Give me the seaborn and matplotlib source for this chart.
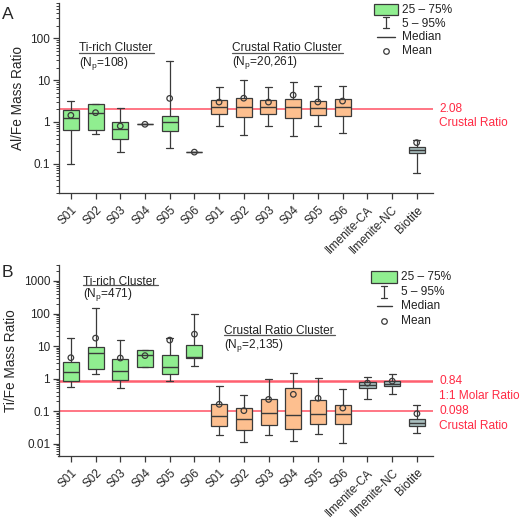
import numpy as np
import matplotlib
matplotlib.use("Agg")
import matplotlib.pyplot as plt
import matplotlib.transforms as mtransforms
import seaborn as sns
from matplotlib.ticker import LogLocator, FuncFormatter, NullFormatter
from matplotlib.patches import Rectangle

# ---------------- data ----------------
categories = ['S01', 'S02', 'S03', 'S04', 'S05', 'S06',
              'S01', 'S02', 'S03', 'S04', 'S05', 'S06',
              'Ilmenite-CA', 'Ilmenite-NC', 'Biotite']
groups = ['ti'] * 6 + ['crust'] * 6 + ['min'] * 3
nan = np.nan

# Panel A: Al/Fe mass ratio (5%, 25%, median, 75%, 95%, mean)
a_p5 = [0.10, 0.51, 0.19, 0.88, 0.245, 0.19, 0.79, 0.48, 0.79, 0.46, 0.79, 0.53, nan, nan, 0.06]
a_q1 = [0.645, 0.66, 0.39, 0.88, 0.60, 0.19, 1.58, 1.29, 1.58, 1.25, 1.50, 1.37, nan, nan, 0.18]
a_med = [1.27, 1.67, 0.67, 0.88, 1.0, 0.19, 2.27, 2.32, 2.27, 2.27, 2.15, 2.27, nan, nan, 0.216]
a_q3 = [1.93, 2.64, 0.98, 0.88, 1.39, 0.19, 3.28, 3.73, 3.28, 3.6, 3.16, 3.53, nan, nan, 0.254]
a_p95 = [3.16, 2.74, 2.12, 0.88, 29.0, 0.19, 6.97, 10.2, 6.97, 9.1, 7.35, 7.2, nan, nan, 0.366]
a_mean = [1.44, 1.67, 0.80, 0.88, 3.66, 0.19, 2.99, 3.7, 2.99, 4.4, 3.0, 3.16, nan, nan, 0.32]

# Panel B: Ti/Fe mass ratio
b_p5 = [0.54, 1.38, 0.50, 2.27, 0.87, 2.38, 0.0186, 0.0111, 0.018, 0.012, 0.020, 0.0105, 0.237, 0.35, 0.021]
b_q1 = [0.87, 1.93, 0.89, 2.27, 1.42, 4.3, 0.036, 0.026, 0.039, 0.029, 0.040, 0.041, 0.53, 0.58, 0.034]
b_med = [1.56, 5.97, 1.76, 5.4, 2.27, 4.5, 0.070, 0.0565, 0.086, 0.0785, 0.082, 0.082, 0.65, 0.70, 0.045]
b_q3 = [3.3, 9.6, 4.1, 7.5, 5.2, 11.0, 0.171, 0.125, 0.24, 0.515, 0.227, 0.155, 0.77, 0.83, 0.058]
b_p95 = [17.2, 150.0, 15.3, 7.5, 17.6, 94.0, 0.59, 0.31, 0.97, 1.53, 1.04, 0.49, 1.1, 1.35, 0.155]
b_mean = [4.4, 17.6, 4.3, 5.1, 15.3, 23.3, 0.163, 0.104, 0.23, 0.33, 0.25, 0.125, 0.73, 0.84, 0.084]

a_refs = [(2.08, '2.08', 'Crustal Ratio', 1.2)]
b_refs = [(0.84, '0.84', '1:1 Molar Ratio', 1.8), (0.098, '0.098', 'Crustal Ratio', 1.2)]

a_clusters = [('Ti-rich Cluster', '108'), ('Crustal Ratio Cluster', '20,261')]
b_clusters = [('Ti-rich Cluster', '471'), ('Crustal Ratio Cluster', '2,135')]

legend_labels = ['25 \u2013 75%', '5 \u2013 95%', 'Median', 'Mean']

# ---------------- style ----------------
sns.set_theme(style='ticks')
plt.rcParams['font.family'] = ['Liberation Sans', 'DejaVu Sans']
plt.rcParams['mathtext.fontset'] = 'custom'
plt.rcParams['mathtext.rm'] = 'Liberation Sans'
plt.rcParams['mathtext.it'] = 'Liberation Sans:italic'

group_colors = {'ti': '#90ee90', 'crust': '#fdbf8f', 'min': '#a9bfbf'}
dark = '#3a3a3a'
red_line = '#ff5f6f'
red_text = '#ff2a44'

fig = plt.figure(figsize=(5.2, 5.2), dpi=100)
W = H = 520.0
axA = fig.add_axes([58.5 / W, 1 - 193 / H, 374.2 / W, 190 / H])
axB = fig.add_axes([58.5 / W, 1 - 455.7 / H, 374.5 / W, 190.7 / H])


def draw_panel(ax, p5, q1, med, q3, p95, mean, ylim, ylabel, refs, clusters,
               cl_pos, leg_pos):
    pos = np.arange(len(categories))
    stats, positions, colors = [], [], []
    for i in range(len(categories)):
        if np.isnan(med[i]):
            continue
        stats.append(dict(med=med[i], q1=q1[i], q3=q3[i], whislo=p5[i],
                          whishi=p95[i], mean=mean[i], fliers=[]))
        positions.append(pos[i])
        colors.append(group_colors[groups[i]])
    bp = ax.bxp(stats, positions=positions, widths=0.65, capwidths=0.28,
                patch_artist=True, showfliers=False, showmeans=False,
                boxprops=dict(edgecolor=dark, linewidth=0.9),
                whiskerprops=dict(color=dark, linewidth=0.9),
                capprops=dict(color=dark, linewidth=0.9),
                medianprops=dict(color=dark, linewidth=1.0),
                zorder=3)
    for patch, c in zip(bp['boxes'], colors):
        patch.set_facecolor(c)

    mx = [pos[i] for i in range(len(categories)) if not np.isnan(mean[i])]
    my = [mean[i] for i in range(len(categories)) if not np.isnan(mean[i])]
    sns.scatterplot(x=mx, y=my, ax=ax, marker='o', s=16, facecolor='none',
                    edgecolor=dark, linewidth=0.9, zorder=5, legend=False)

    for val, lab1, lab2, lw in refs:
        ax.axhline(val, color=red_line, lw=lw, zorder=2)
        ax.annotate(lab1, xy=(1.017, val), xycoords=('axes fraction', 'data'),
                    ha='left', va='center', color=red_text, fontsize=8.6,
                    annotation_clip=False)
        ax.annotate(lab2, xy=(1.017, val), xycoords=('axes fraction', 'data'),
                    xytext=(0, -10.5), textcoords='offset points',
                    ha='left', va='center', color=red_text, fontsize=8.6,
                    annotation_clip=False)

    ax.set_yscale('log')
    ax.set_ylim(*ylim)
    ax.set_xlim(-0.5, 14.65)
    ax.set_xticks(pos)
    ax.set_xticklabels(categories, rotation=45, ha='right',
                       rotation_mode='anchor', fontsize=8.5)
    shift = mtransforms.ScaledTranslation(4 / 72, 0, fig.dpi_scale_trans)
    for lbl in ax.get_xticklabels():
        lbl.set_transform(lbl.get_transform() + shift)
    ax.yaxis.set_major_locator(LogLocator(base=10, numticks=12))
    ax.yaxis.set_minor_locator(LogLocator(base=10, subs=np.arange(2, 10), numticks=12))
    ax.yaxis.set_major_formatter(FuncFormatter(lambda v, p: f'{v:g}'))
    ax.yaxis.set_minor_formatter(NullFormatter())
    ax.tick_params(axis='both', which='major', length=4, width=0.9,
                   color=dark, labelsize=8.5, pad=2)
    ax.tick_params(axis='y', which='minor', length=2.2, width=0.7, color=dark)
    ax.tick_params(axis='x', which='major', pad=4)
    for s in ['top', 'right']:
        ax.spines[s].set_visible(False)
    for s in ['left', 'bottom']:
        ax.spines[s].set_color(dark)
        ax.spines[s].set_linewidth(0.9)
    ax.set_ylabel(ylabel, fontsize=9.8, labelpad=4)
    ax.grid(False)

    # cluster annotations
    for (title, n), (x0, x1, yt, yu, yn) in zip(clusters, cl_pos):
        ax.text(x0, yt, title, transform=ax.transAxes, fontsize=8.6,
                ha='left', va='center', color='#222222')
        ax.plot([x0, x1], [yu, yu], transform=ax.transAxes, color='#555555',
                lw=0.9, clip_on=False)
        ax.text(x0, yn, '(N$_{\\mathrm{p}}$=' + n + ')', transform=ax.transAxes,
                fontsize=8.6, ha='left', va='center', color='#222222')

    # legend
    px0, px1, py0, py1, tx, ty, wx, wy0, wy1, mx0, mx1 = leg_pos
    ax.add_patch(Rectangle((px0, py0), px1 - px0, py1 - py0,
                           transform=ax.transAxes, facecolor=group_colors['ti'],
                           edgecolor=dark, lw=0.9, clip_on=False))
    ax.plot([wx, wx], [wy0, wy1], transform=ax.transAxes, color=dark,
            lw=0.9, clip_on=False)
    for yy in (wy0, wy1):
        ax.plot([wx - 0.009, wx + 0.009], [yy, yy], transform=ax.transAxes,
                color=dark, lw=0.9, clip_on=False)
    ax.plot([mx0, mx1], [ty[2], ty[2]], transform=ax.transAxes, color=dark,
            lw=1.0, clip_on=False)
    ax.plot([wx], [ty[3]], transform=ax.transAxes, marker='o', ms=4,
            mfc='none', mec=dark, mew=0.9, clip_on=False)
    for t, yy in zip(legend_labels, ty):
        ax.text(tx, yy, t, transform=ax.transAxes, fontsize=8.6,
                ha='left', va='center', color='#222222')


draw_panel(axA, a_p5, a_q1, a_med, a_q3, a_p95, a_mean, (0.02, 700),
           'Al/Fe Mass Ratio', a_refs, a_clusters,
           [(0.0548, 0.255, 0.763, 0.738, 0.683),
            (0.463, 0.760, 0.763, 0.738, 0.689)],
           (0.843, 0.907, 0.937, 0.995, 0.918,
            [0.963, 0.889, 0.821, 0.747], 0.875, 0.868, 0.926, 0.852, 0.900))

draw_panel(axB, b_p5, b_q1, b_med, b_q3, b_p95, b_mean, (0.0043, 3100),
           'Ti/Fe Mass Ratio', b_refs, b_clusters,
           [(0.0654, 0.266, 0.912, 0.893, 0.843),
            (0.442, 0.738, 0.655, 0.633, 0.580)],
           (0.834, 0.903, 0.906, 0.970, 0.915,
            [0.937, 0.858, 0.785, 0.706], 0.869, 0.825, 0.891, 0.850, 0.890))

fig.text(0.004, 0.987, 'A', fontsize=12.5, va='top', ha='left')
fig.text(0.004, 0.491, 'B', fontsize=12.5, va='top', ha='left')

fig.savefig('out.png', dpi=100, facecolor='white')
